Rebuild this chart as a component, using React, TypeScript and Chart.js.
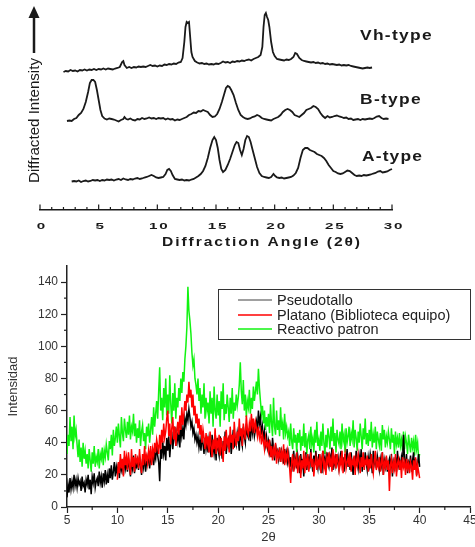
import React, { useEffect, useRef } from 'react';
import { Chart, registerables } from 'chart.js';

Chart.register(...registerables);

// ---------------- Top panel: reference diffraction patterns ----------------
const topTickLabels = [0, 5, 10, 15, 20, 25, 30];
const patternNames = ['Vh-type', 'B-type', 'A-type'];
const patternOffsets = [138, 88, 28];

const vhAngles = [2.0, 2.2, 2.4, 2.6, 2.8, 3.0, 3.2, 3.4, 3.6, 3.8, 4.0, 4.2, 4.4, 4.6, 4.8, 5.0, 5.2, 5.4, 5.6, 5.8, 6.0, 6.2, 6.4, 6.6, 6.8, 7.0, 7.1, 7.2, 7.4, 7.6, 7.8, 8.0, 8.2, 8.4, 8.6, 8.8, 9.0, 9.2, 9.4, 9.6, 9.8, 10.0, 10.2, 10.4, 10.6, 10.8, 11.0, 11.2, 11.4, 11.6, 11.8, 12.0, 12.15, 12.3, 12.4, 12.5, 12.6, 12.7, 12.8, 12.9, 13.0, 13.2, 13.4, 13.6, 13.8, 14.0, 14.2, 14.4, 14.6, 14.8, 15.0, 15.2, 15.4, 15.6, 15.8, 16.0, 16.2, 16.4, 16.6, 16.8, 17.0, 17.2, 17.4, 17.6, 17.8, 18.0, 18.2, 18.4, 18.6, 18.8, 18.95, 19.05, 19.15, 19.25, 19.35, 19.45, 19.55, 19.7, 19.85, 20.0, 20.2, 20.4, 20.6, 20.8, 21.0, 21.2, 21.4, 21.6, 21.75, 21.9, 22.1, 22.3, 22.5, 22.7, 22.9, 23.1, 23.3, 23.5, 23.7, 23.9, 24.1, 24.3, 24.5, 24.7, 24.9, 25.1, 25.3, 25.5, 25.7, 25.9, 26.1, 26.3, 26.5, 26.7, 26.9, 27.1, 27.3, 27.5, 27.7, 27.9, 28.1, 28.3];
const vhIntensity = [0, 1, 0.5, 2, 1, 1.5, 0.5, 2, 1.5, 2.5, 1.5, 2.5, 2, 3, 2, 3, 2.5, 3.5, 2.5, 3.5, 3, 2.5, 3.5, 4, 5, 10, 11, 7, 4, 5, 4, 5, 4.5, 5.5, 5, 5.5, 5, 6, 7, 6, 6.5, 5.5, 6.5, 6, 7.5, 7, 8, 7.5, 8.5, 8, 9.5, 10, 14, 30, 45, 50, 49, 50, 35, 20, 15, 11, 9.5, 8.5, 9, 8, 8.5, 7.5, 8, 7.5, 8.5, 8, 9, 10.5, 9.5, 10, 9, 10.5, 10, 11, 10.5, 11.5, 11, 12, 12.5, 11.5, 13, 14, 15, 17, 25, 45, 57, 59, 55, 52, 45, 30, 20, 16, 13, 12.5, 12, 11.5, 12.5, 12, 13, 15, 19, 18, 14, 12, 11, 10.5, 10, 9.5, 10, 9, 9.5, 8.5, 9, 8, 8.5, 7.5, 8, 7.5, 7, 7.5, 6.5, 7, 6.5, 7, 6, 5.5, 5, 4.5, 4, 3.5, 4, 4.5, 4, 4.5];

const bAngles = [2.3, 2.5, 2.7, 2.9, 3.1, 3.3, 3.5, 3.7, 3.9, 4.1, 4.25, 4.4, 4.55, 4.7, 4.85, 5.0, 5.15, 5.3, 5.5, 5.7, 5.9, 6.1, 6.3, 6.5, 6.7, 6.9, 7.1, 7.2, 7.35, 7.5, 7.7, 7.9, 8.1, 8.3, 8.5, 8.7, 8.9, 9.1, 9.3, 9.5, 9.7, 9.9, 10.1, 10.3, 10.5, 10.7, 10.9, 11.1, 11.3, 11.5, 11.7, 11.9, 12.1, 12.3, 12.5, 12.7, 12.9, 13.1, 13.3, 13.5, 13.7, 13.9, 14.1, 14.3, 14.5, 14.7, 14.9, 15.1, 15.3, 15.5, 15.7, 15.85, 16.0, 16.15, 16.3, 16.5, 16.7, 16.9, 17.1, 17.3, 17.5, 17.7, 17.9, 18.1, 18.3, 18.5, 18.7, 18.9, 19.1, 19.3, 19.5, 19.7, 19.9, 20.1, 20.3, 20.5, 20.7, 20.9, 21.1, 21.3, 21.5, 21.7, 21.9, 22.1, 22.3, 22.5, 22.7, 22.9, 23.1, 23.3, 23.5, 23.7, 23.9, 24.1, 24.3, 24.5, 24.7, 24.9, 25.1, 25.3, 25.5, 25.7, 25.9, 26.1, 26.3, 26.5, 26.7, 26.9, 27.1, 27.3, 27.5, 27.7, 27.9, 28.1, 28.3, 28.5, 28.7, 28.9, 29.1, 29.3, 29.5, 29.7];
const bIntensity = [1, 1.5, 1, 3, 4, 7, 9, 13, 20, 30, 39, 42, 42, 40, 32, 22, 12, 6, 3.5, 2.5, 3.5, 3, 2.5, 1.5, 0.5, 2, 3, 5, 3, 2.5, 3.5, 2, 1.5, 3, 2.5, 4, 3, 3.5, 4.5, 3.5, 4, 3, 4, 3.5, 4, 2.5, 3.5, 2.5, 3, 1.5, 2.5, 2, 3, 4, 5, 7, 8, 9.5, 9, 11, 10.5, 12, 11, 10, 7, 5, 5.5, 8, 13, 20, 28, 34, 36, 35, 32, 27, 19, 12, 7, 5, 3.5, 3, 3.5, 5, 5.5, 7, 6, 4, 3, 2.5, 2, 1.5, 3, 4, 5, 7, 10, 12, 13, 12, 10, 7, 6, 5, 7, 9, 12, 13, 14, 16, 15, 13, 9, 6, 4, 6, 4.5, 5, 6, 6.5, 5.5, 5, 4, 4.5, 3, 3.5, 2, 2.5, 3, 2, 3, 2.5, 3, 3.5, 3, 4, 5.5, 6, 4, 3, 3.5, 3];

const aAngles = [2.7, 2.9, 3.1, 3.3, 3.5, 3.7, 3.9, 4.1, 4.3, 4.5, 4.7, 4.9, 5.1, 5.3, 5.5, 5.7, 5.9, 6.1, 6.3, 6.5, 6.7, 6.9, 7.1, 7.3, 7.5, 7.7, 7.9, 8.1, 8.3, 8.5, 8.7, 8.9, 9.1, 9.3, 9.5, 9.7, 9.9, 10.1, 10.3, 10.5, 10.7, 10.85, 11.0, 11.15, 11.3, 11.5, 11.7, 11.9, 12.1, 12.3, 12.5, 12.7, 12.9, 13.1, 13.3, 13.5, 13.7, 13.9, 14.1, 14.3, 14.5, 14.7, 14.85, 15.0, 15.15, 15.3, 15.45, 15.6, 15.8, 16.0, 16.2, 16.4, 16.6, 16.75, 16.9, 17.05, 17.2, 17.35, 17.5, 17.65, 17.8, 17.95, 18.1, 18.3, 18.5, 18.7, 18.9, 19.1, 19.3, 19.5, 19.7, 19.9, 20.05, 20.2, 20.4, 20.6, 20.8, 21.0, 21.2, 21.4, 21.6, 21.8, 22.0, 22.2, 22.4, 22.6, 22.8, 23.0, 23.2, 23.4, 23.6, 23.8, 24.0, 24.2, 24.4, 24.6, 24.8, 25.0, 25.2, 25.4, 25.6, 25.8, 26.0, 26.2, 26.4, 26.6, 26.8, 27.0, 27.2, 27.4, 27.6, 27.8, 28.0, 28.2, 28.4, 28.6, 28.8, 29.0, 29.2, 29.4, 29.6, 29.8, 30.0, 30.1];
const aIntensity = [0.5, 1, 0.5, 1.5, 0, 1, 1.5, 0.5, 1, 2, 1.5, 2, 1, 2, 1.5, 2.5, 2, 2.5, 1.5, 2.5, 3, 2, 3.5, 2.5, 2, 3, 2.5, 3.5, 4, 3, 3.5, 4.5, 5, 6, 7, 6, 4.5, 4, 4.5, 5, 8, 12, 13, 11, 7, 3, 2.5, 2, 2.5, 1.5, 2, 1.5, 2.5, 3, 4.5, 6, 8, 11, 16, 24, 34, 42, 45, 42, 34, 22, 13, 10, 12, 17, 23, 30, 37, 40, 39, 32, 27, 33, 42, 46, 45, 40, 33, 24, 15, 9, 6, 5, 4.5, 4, 5, 8, 6, 4.5, 4, 4.5, 3.5, 4, 4.5, 5, 6.5, 9, 14, 24, 32, 34, 34, 32, 31, 30, 28, 27, 26, 24, 21, 17, 14, 11, 10, 8.5, 8, 8.5, 10, 11.5, 11, 9, 7, 6, 6.5, 6, 7, 6.5, 7, 7.5, 8.5, 9, 10.5, 11, 9.5, 10, 10.5, 12, 13, 14];

// ---------------- Bottom panel: measured samples ----------------
const scanStart = 5;
const scanStep = 0.1;
const platanoStart = 10;
const seriesNames = ['Pseudotallo', 'Platano (Biblioteca equipo)', 'Reactivo patron'];
const yTickValues = [0, 20, 40, 60, 80, 100, 120, 140];
const xTickValues = [5, 10, 15, 20, 25, 30, 35, 40, 45];

const pseudotallo = [
  6, 14, 9, 18, 11, 16, 12, 20, 13, 17,
  12, 18, 14, 16, 10, 19, 13, 15, 9, 17,
  14, 20, 11, 17, 8, 19, 15, 21, 12, 16,
  18, 13, 22, 15, 19, 12, 21, 16, 23, 14,
  20, 15, 24, 18, 26, 17, 22, 28, 19, 25,
  21, 27, 18, 29, 23, 26, 20, 31, 24, 28,
  22, 30, 25, 19, 28, 24, 32, 21, 27, 25,
  29, 23, 31, 26, 20, 30, 25, 33, 22, 28,
  27, 34, 24, 31, 29, 36, 26, 33, 30, 38,
  32, 28, 16, 36, 30, 41, 33, 38, 29, 43,
  35, 44, 31, 40, 47, 36, 43, 50, 38, 46,
  41, 48, 37, 52, 44, 49, 42, 55, 51, 58,
  54, 61, 56, 50, 53, 46, 49, 42, 45, 40,
  44, 37, 42, 35, 46, 39, 33, 43, 36, 41,
  34, 42, 37, 31, 45, 38, 33, 40, 29, 43,
  36, 32, 44, 38, 30, 41, 35, 47, 33, 39,
  42, 36, 45, 33, 40, 48, 37, 43, 39, 46,
  41, 35, 47, 42, 38, 50, 44, 40, 52, 45,
  43, 49, 41, 54, 46, 51, 44, 48, 53, 47,
  60, 52, 56, 45, 50, 42, 47, 39, 44, 37,
  41, 34, 38, 31, 43, 36, 29, 39, 33, 35,
  30, 37, 28, 35, 32, 27, 36, 30, 34, 28,
  33, 25, 31, 22, 29, 35, 26, 30, 24, 32,
  27, 21, 33, 25, 30, 19, 28, 34, 23, 29,
  31, 24, 36, 27, 22, 32, 26, 35, 28, 24,
  33, 26, 30, 21, 35, 27, 31, 24, 34, 28,
  25, 32, 29, 37, 23, 30, 26, 33, 27, 31,
  24, 29, 35, 26, 31, 22, 33, 28, 36, 25,
  30, 23, 34, 27, 20, 31, 26, 35, 29, 24,
  32, 27, 36, 22, 30, 25, 34, 28, 23, 31,
  26, 33, 29, 21, 35, 27, 30, 24, 32, 28,
  23, 30, 26, 34, 20, 29, 25, 31, 22, 27,
  30, 24, 33, 19, 28, 25, 31, 22, 35, 26,
  29, 23, 31, 27, 45, 30, 24, 33, 21, 28,
  26, 32, 22, 29, 34, 24, 30, 20, 27, 33,
  25,
];

const platano = [
  17, 28, 21, 33, 24, 30, 19, 35, 26, 31,
  23, 34, 27, 20, 36, 25, 31, 22, 33, 28,
  30, 24, 36, 27, 21, 33, 26, 38, 29, 32,
  27, 35, 30, 38, 26, 36, 32, 40, 34, 42,
  38, 33, 45, 36, 48, 40, 52, 43, 47, 55,
  60, 44, 52, 39, 49, 56, 42, 50, 38, 47,
  53, 45, 57, 48, 62, 51, 58, 66, 60, 70,
  65, 78, 68, 73, 62, 70, 57, 63, 52, 58,
  49, 55, 45, 51, 40, 48, 43, 36, 46, 39,
  44, 34, 47, 38, 31, 42, 36, 49, 33, 41,
  37, 45, 32, 43, 38, 28, 44, 35, 48, 39,
  42, 34, 50, 40, 45, 36, 53, 43, 38, 47,
  41, 55, 44, 49, 38, 52, 46, 42, 57, 48,
  45, 52, 47, 58, 50, 55, 46, 53, 49, 44,
  50, 43, 47, 39, 45, 41, 36, 43, 38, 40,
  35, 42, 31, 38, 29, 36, 33, 40, 27, 34,
  31, 37, 28, 34, 30, 39, 26, 33, 29, 35,
  30, 24, 15, 28, 33, 22, 29, 26, 34, 21,
  27, 32, 18, 29, 24, 35, 21, 30, 26, 33,
  22, 28, 34, 25, 30, 19, 27, 31, 23, 29,
  26, 33, 21, 29, 35, 24, 28, 20, 31, 27,
  34, 25, 30, 22, 36, 27, 31, 24, 33, 28,
  23, 30, 26, 35, 21, 29, 33, 24, 28, 31,
  25, 34, 22, 29, 27, 32, 20, 30, 26, 33,
  28, 21, 31, 25, 34, 23, 29, 27, 32, 22,
  30, 24, 33, 26, 21, 29, 35, 23, 28, 25,
  31, 22, 27, 34, 20, 28, 25, 32, 23, 29,
  10, 26, 30, 21, 28, 24, 33, 19, 27, 30,
  23, 29, 18, 31, 25, 28, 20, 30, 24, 27,
  21, 28, 25, 17, 29, 23, 31, 19, 26, 22,
  18,
];

const reactivo = [
  33, 45, 38, 56, 41, 50, 36, 57, 44, 48,
  39, 31, 42, 28, 37, 25, 40, 30, 35, 27,
  33, 24, 36, 29, 22, 34, 27, 38, 25, 31,
  28, 36, 24, 33, 30, 37, 26, 35, 31, 39,
  34, 29, 41, 36, 45, 32, 48, 38, 43, 50,
  40, 52, 44, 37, 56, 46, 41, 55, 48, 43,
  53, 45, 57, 42, 50, 47, 58, 44, 52, 40,
  49, 43, 54, 38, 47, 51, 41, 46, 36, 50,
  44, 52, 40, 48, 56, 45, 62, 50, 58, 66,
  55, 72, 87, 60, 68, 54, 74, 62, 80, 57,
  70, 58, 82, 64, 52, 71, 60, 77, 55, 68,
  62, 74, 66, 80, 71, 84, 78, 92, 100, 112,
  137, 122, 116, 108, 96, 88, 92, 80, 76, 70,
  80, 66, 74, 58, 70, 62, 77, 55, 68, 60,
  65, 52, 72, 58, 68, 50, 75, 60, 55, 70,
  57, 66, 50, 72, 61, 77, 54, 64, 58, 70,
  62, 53, 68, 58, 74, 55, 65, 60, 70, 63,
  68, 76, 90, 72, 64, 79, 60, 70, 56, 66,
  62, 73, 58, 68, 61, 75, 66, 72, 78, 70,
  86, 74, 66, 58, 63, 52, 60, 48, 56, 50,
  58, 46, 64, 52, 44, 68, 50, 45, 60, 48,
  54, 44, 62, 48, 52, 42, 58, 46, 50, 44,
  47, 38, 52, 41, 36, 49, 40, 45, 34, 46,
  40, 48, 35, 44, 38, 52, 37, 46, 33, 42,
  45, 36, 50, 39, 43, 34, 48, 40, 53, 38,
  42, 35, 47, 38, 52, 40, 33, 45, 37, 49,
  44, 36, 50, 41, 55, 38, 46, 34, 48, 42,
  39, 47, 36, 52, 41, 45, 34, 49, 40, 44,
  50, 38, 46, 42, 54, 37, 48, 43, 35, 47,
  40, 52, 44, 36, 49, 42, 55, 39, 46, 38,
  48, 41, 53, 37, 45, 40, 50, 36, 47, 42,
  38, 46, 35, 51, 42, 48, 37, 44, 40, 47,
  42, 36, 49, 40, 45, 33, 47, 39, 43, 37,
  46, 38, 42, 35, 47, 36, 44, 40, 33, 45,
  39, 34, 43, 37, 41, 32, 45, 36, 40, 30,
  33,
];

const FONT = '"Liberation Sans", Arial, sans-serif';
const INK = '#1a1a1a';

function toPoints(angles: number[], values: number[], offset: number) {
  return angles.map((a, i) => ({ x: a, y: values[i] + offset }));
}
function toScan(values: number[], start: number) {
  return values.map((v, i) => ({ x: Math.round((start + i * scanStep) * 100) / 100, y: v }));
}

// Draws text horizontally widened by `stretch`, then letter-spaced to reach `width`.
function fitText(ctx: CanvasRenderingContext2D, text: string, left: number, cy: number, width: number, font: string, stretch: number) {
  ctx.save();
  ctx.font = font;
  (ctx as any).letterSpacing = '0px';
  const w = ctx.measureText(text).width;
  const ls = (width / stretch - w) / text.length;
  (ctx as any).letterSpacing = ls + 'px';
  ctx.translate(left, cy);
  ctx.scale(stretch, 1);
  ctx.textAlign = 'left';
  ctx.textBaseline = 'middle';
  ctx.fillStyle = INK;
  ctx.fillText(text, 0, 0);
  ctx.restore();
}

const topPlugin = {
  id: 'topDecor',
  afterDraw(chart: any) {
    const ctx: CanvasRenderingContext2D = chart.ctx;
    const x = chart.scales.x;
    const bottom = chart.chartArea.bottom;
    ctx.save();
    ctx.strokeStyle = INK;
    ctx.lineWidth = 1.2;
    for (const t of x.ticks) {
      const px = x.getPixelForValue(t.value);
      const len = t.value % 5 === 0 ? 5.5 : 3;
      ctx.beginPath();
      ctx.moveTo(px, bottom);
      ctx.lineTo(px, bottom - len);
      ctx.stroke();
    }
    ctx.fillStyle = INK;
    for (const v of topTickLabels) {
      const px = x.getPixelForValue(v) + 2;
      ctx.save();
      ctx.translate(px, 226);
      ctx.scale(1.6, 1);
      ctx.font = 'bold 9.5px ' + FONT;
      (ctx as any).letterSpacing = '1.2px';
      ctx.textAlign = 'center';
      ctx.textBaseline = 'middle';
      ctx.fillText(String(v), 0, 0);
      ctx.restore();
    }
    ctx.restore();
    fitText(ctx, 'Diffraction Angle (2θ)', 162, 242, 200, 'bold 13px ' + FONT, 1.2);
    const nameLeft = [360, 360, 362];
    const nameY = [36, 99.5, 157];
    const nameW = [73, 62, 61];
    patternNames.forEach((n, i) => fitText(ctx, n, nameLeft[i], nameY[i], nameW[i], 'bold 14.5px ' + FONT, 1.2));
    ctx.save();
    ctx.font = '15px ' + FONT;
    const label = 'Diffracted Intensity';
    const w = ctx.measureText(label).width;
    ctx.translate(35, 120.5);
    ctx.rotate(-Math.PI / 2);
    ctx.scale(125 / w, 1);
    ctx.fillStyle = INK;
    ctx.textAlign = 'center';
    ctx.textBaseline = 'middle';
    ctx.fillText(label, 0, 0);
    ctx.restore();
    ctx.save();
    ctx.strokeStyle = INK;
    ctx.fillStyle = INK;
    ctx.lineWidth = 2.5;
    ctx.beginPath();
    ctx.moveTo(34, 53);
    ctx.lineTo(34, 16);
    ctx.stroke();
    ctx.beginPath();
    ctx.moveTo(34, 6);
    ctx.lineTo(28.5, 18);
    ctx.lineTo(39.5, 18);
    ctx.closePath();
    ctx.fill();
    ctx.restore();
  },
};

const bottomPlugin = {
  id: 'bottomDecor',
  afterDraw(chart: any) {
    const ctx: CanvasRenderingContext2D = chart.ctx;
    const x = chart.scales.x;
    const y = chart.scales.y;
    const area = chart.chartArea;
    ctx.save();
    ctx.strokeStyle = '#222';
    ctx.lineWidth = 1.2;
    for (let v = 10; v < 150; v += 20) {
      const py = y.getPixelForValue(v);
      ctx.beginPath();
      ctx.moveTo(area.left, py);
      ctx.lineTo(area.left - 3, py);
      ctx.stroke();
    }
    for (let v = 7.5; v < 45; v += 5) {
      const px = x.getPixelForValue(v);
      ctx.beginPath();
      ctx.moveTo(px, area.bottom);
      ctx.lineTo(px, area.bottom + 3);
      ctx.stroke();
    }
    const bx = 218, by = 34, bw = 252, bh = 50;
    ctx.strokeStyle = '#333';
    ctx.lineWidth = 1;
    ctx.strokeRect(bx + 0.5, by + 0.5, bw, bh);
    const rows = [45, 60, 74];
    chart.data.datasets.forEach((ds: any, i: number) => {
      ctx.strokeStyle = ds.legendColor || ds.borderColor;
      ctx.lineWidth = 1.3;
      ctx.beginPath();
      ctx.moveTo(238, rows[i]);
      ctx.lineTo(272, rows[i]);
      ctx.stroke();
      ctx.fillStyle = '#222';
      ctx.font = '14.5px ' + FONT;
      ctx.textAlign = 'left';
      ctx.textBaseline = 'middle';
      ctx.fillText(ds.label, 277, rows[i] + 0.5);
    });
    ctx.restore();
  },
};

function TopChart() {
  const ref = useRef<HTMLCanvasElement>(null);
  useEffect(() => {
    const chart = new Chart(ref.current!, {
      type: 'line',
      data: {
        datasets: [
          { label: patternNames[0], data: toPoints(vhAngles, vhIntensity, patternOffsets[0]) },
          { label: patternNames[1], data: toPoints(bAngles, bIntensity, patternOffsets[1]) },
          { label: patternNames[2], data: toPoints(aAngles, aIntensity, patternOffsets[2]) },
        ].map((d) => ({ ...d, borderColor: INK, borderWidth: 1.8, pointRadius: 0, fill: false, clip: 6 })) as any,
      },
      options: {
        responsive: false,
        animation: false,
        events: [],
        layout: { padding: { left: 40, right: 83, top: 0, bottom: 0 } },
        plugins: { legend: { display: false }, tooltip: { enabled: false } },
        scales: {
          x: {
            type: 'linear',
            min: 0,
            max: 30,
            ticks: { display: false, stepSize: 1, autoSkip: false },
            grid: { drawOnChartArea: false, drawTicks: false },
            border: { display: true, color: INK, width: 1.5 },
            afterFit: (s: any) => { s.height = 45; s.paddingLeft = 0; s.paddingRight = 0; },
          },
          y: { display: false, min: 0, max: 210 },
        },
      } as any,
      plugins: [topPlugin],
    });
    return () => chart.destroy();
  }, []);
  return <canvas ref={ref} width={475} height={255} style={{ display: 'block' }} />;
}

function BottomChart() {
  const ref = useRef<HTMLCanvasElement>(null);
  useEffect(() => {
    const chart = new Chart(ref.current!, {
      type: 'line',
      data: {
        datasets: [
          { label: seriesNames[0], data: toScan(pseudotallo, scanStart), borderColor: '#000000', legendColor: '#808080', order: 2 },
          { label: seriesNames[1], data: toScan(platano, platanoStart), borderColor: '#ff0000', order: 1 },
          { label: seriesNames[2], data: toScan(reactivo, scanStart), borderColor: '#11f311', order: 3 },
        ].map((d) => ({ ...d, borderWidth: 1.5, pointRadius: 0, fill: false })) as any,
      },
      options: {
        responsive: false,
        animation: false,
        events: [],
        layout: { padding: { left: 0, right: 5, top: 11, bottom: 0 } },
        plugins: { legend: { display: false }, tooltip: { enabled: false } },
        scales: {
          x: {
            type: 'linear',
            min: 5,
            max: 45,
            afterBuildTicks: (s: any) => { s.ticks = xTickValues.map((v) => ({ value: v })); },
            ticks: { font: { family: FONT, size: 12 }, color: '#333', padding: 0, maxRotation: 0, autoSkip: false },
            grid: { drawOnChartArea: false, tickLength: 6, tickColor: '#222', tickWidth: 1.2 },
            border: { display: true, color: '#222', width: 1.5 },
            title: { display: true, text: '2θ', font: { family: FONT, size: 13 }, color: '#333', padding: { top: 0, bottom: 2 } },
            afterFit: (s: any) => { s.height = 40; s.paddingLeft = 0; s.paddingRight = 0; },
          },
          y: {
            min: 0,
            max: 150,
            afterBuildTicks: (s: any) => { s.ticks = yTickValues.map((v) => ({ value: v })); },
            ticks: { font: { family: FONT, size: 12 }, color: '#333', padding: 3 },
            grid: { drawOnChartArea: false, tickLength: 6, tickColor: '#222', tickWidth: 1.2 },
            border: { display: true, color: '#222', width: 1.5 },
            title: { display: true, text: 'Intensidad', font: { family: FONT, size: 13 }, color: '#333', padding: { top: 6, bottom: 0 } },
            afterFit: (s: any) => { s.width = 67; },
          },
        },
      } as any,
      plugins: [bottomPlugin],
    });
    return () => chart.destroy();
  }, []);
  return <canvas ref={ref} width={475} height={292} style={{ display: 'block' }} />;
}

export default function App() {
  useEffect(() => {
    document.body.style.margin = '0';
  }, []);
  return (
    <div style={{ width: 475, height: 547, background: '#fff' }}>
      <TopChart />
      <BottomChart />
    </div>
  );
}
